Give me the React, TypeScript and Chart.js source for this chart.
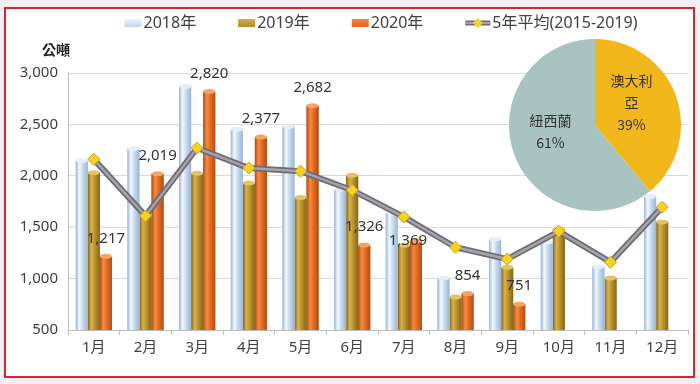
import React, { useEffect, useRef } from "react";
import { Chart, registerables } from "chart.js";

Chart.register(...registerables);

const months = ["1月", "2月", "3月", "4月", "5月", "6月", "7月", "8月", "9月", "10月", "11月", "12月"];
const s2018 = [2150, 2265, 2870, 2450, 2480, 1870, 1645, 1005, 1385, 1355, 1115, 1800];
const s2019 = [2030, 1620, 2025, 1930, 1790, 2005, 1325, 820, 1110, 1480, 1005, 1550];
const s2020: (number | null)[] = [1217, 2019, 2820, 2377, 2682, 1326, 1369, 854, 751, null, null, null];
const avg5 = [2160, 1610, 2270, 2075, 2045, 1860, 1600, 1305, 1190, 1460, 1160, 1695];
const seriesNames = ["2018年", "2019年", "2020年", "5年平均(2015-2019)"];
const yMin = 500;
const yMax = 3000;
const yStep = 500;
const unitLabel = "公噸";

const pieNames = ["澳大利亞", "紐西蘭"];
const pieLabelLines = [["澳大利", "亞"], ["紐西蘭"]];
const pieValues = [39, 61];

const FONT = '"Noto Sans", "Noto Sans CJK TC", sans-serif';
const CJK = '"Noto Sans CJK TC", "Noto Sans", sans-serif';
const TEXT = "#404040";

const SHADES = [
  { edge: "#9AB6D6", light: "#F4F8FC", mid: "#C4D9EE", cap: "#E6EFF8" },
  { edge: "#86661A", light: "#D9B34C", mid: "#B8912C", cap: "#E4C462" },
  { edge: "#B04E18", light: "#F68C42", mid: "#E36A20", cap: "#F8A468" },
];
const LINE_COLOR = "#A6A3AA";
const LINE_EDGE = "#6F6B74";
const DIAMOND_FILL = "#F5D320";
const DIAMOND_EDGE = "#C9A214";
const PIE_COLORS = ["#F2B71B", "#A9C3C0"];

const cylinderPlugin = {
  id: "cylinder",
  beforeDatasetDraw(chart: any, args: any) {
    const meta = args.meta;
    if (meta.type !== "line") return;
    const ctx = chart.ctx;
    ctx.save();
    ctx.strokeStyle = LINE_EDGE;
    ctx.lineWidth = 6;
    ctx.lineJoin = "round";
    ctx.beginPath();
    meta.data.forEach((pt: any, i: number) => {
      if (i === 0) ctx.moveTo(pt.x, pt.y);
      else ctx.lineTo(pt.x, pt.y);
    });
    ctx.stroke();
    ctx.restore();
  },
  afterDatasetDraw(chart: any, args: any) {
    const meta = args.meta;
    if (meta.type !== "bar") return;
    const shade = SHADES[args.index];
    if (!shade) return;
    const values = chart.data.datasets[args.index].data;
    const ctx = chart.ctx;
    const area = chart.chartArea;
    ctx.save();
    ctx.beginPath();
    ctx.rect(area.left, area.top - 10, area.right - area.left, area.bottom - area.top + 10);
    ctx.clip();
    meta.data.forEach((el: any, i: number) => {
      if (values[i] == null) return;
      const { x, y, base, width } = el.getProps(["x", "y", "base", "width"], true);
      if (!Number.isFinite(y)) return;
      const left = x - width / 2;
      const bottom = Math.min(base, area.bottom);
      const g = ctx.createLinearGradient(left, 0, left + width, 0);
      g.addColorStop(0, shade.edge);
      g.addColorStop(0.3, shade.light);
      g.addColorStop(0.6, shade.mid);
      g.addColorStop(1, shade.edge);
      ctx.fillStyle = g;
      ctx.fillRect(left, y, width, bottom - y);
      ctx.beginPath();
      ctx.ellipse(x, y, width / 2, 2.5, 0, 0, Math.PI * 2);
      ctx.fillStyle = shade.cap;
      ctx.fill();
    });
    ctx.restore();
  },
};

const labelNudge: Record<number, [number, number]> = { 6: [-8, 0] };

const extrasPlugin = {
  id: "extras",
  afterDatasetsDraw(chart: any) {
    const ctx = chart.ctx;
    ctx.save();
    const meta = chart.getDatasetMeta(2);
    ctx.font = `15px ${FONT}`;
    ctx.fillStyle = "#333333";
    ctx.textAlign = "center";
    ctx.textBaseline = "middle";
    meta.data.forEach((el: any, i: number) => {
      const v = s2020[i];
      if (v == null) return;
      const nudge = labelNudge[i];
      const dx = nudge ? nudge[0] : 0;
      const dy = nudge ? nudge[1] : -18;
      ctx.fillText(v.toLocaleString("en-US"), el.x + dx, el.y + dy);
    });
    ctx.restore();
  },
  afterDraw(chart: any) {
    const ctx = chart.ctx;
    ctx.save();
    ctx.font = `bold 14px ${CJK}`;
    ctx.fillStyle = "#222222";
    ctx.textAlign = "center";
    ctx.textBaseline = "middle";
    ctx.fillText(unitLabel, 56, 50);

    ctx.font = `16px ${FONT}`;
    ctx.textAlign = "left";
    const gap = 42;
    const items = seriesNames.map((name, i) => {
      const icon = i < 3 ? 17 : 25;
      const tw = ctx.measureText(name).width;
      return { name, icon, tw, w: icon + 2 + tw, i };
    });
    const total = items.reduce((a, b) => a + b.w, 0) + gap * (items.length - 1);
    let x = 381 - total / 2;
    const cy = 22;
    items.forEach((it) => {
      if (it.i < 3) {
        const s = SHADES[it.i];
        const g = ctx.createLinearGradient(0, cy - 4, 0, cy + 4);
        g.addColorStop(0, s.light);
        g.addColorStop(1, s.mid);
        ctx.fillStyle = g;
        ctx.fillRect(x, cy - 3, 17, 8);
      } else {
        ctx.strokeStyle = LINE_EDGE;
        ctx.lineWidth = 5;
        ctx.beginPath();
        ctx.moveTo(x, cy + 1);
        ctx.lineTo(x + 25, cy + 1);
        ctx.stroke();
        ctx.strokeStyle = LINE_COLOR;
        ctx.lineWidth = 2;
        ctx.beginPath();
        ctx.moveTo(x, cy + 1);
        ctx.lineTo(x + 25, cy + 1);
        ctx.stroke();
        ctx.beginPath();
        ctx.moveTo(x + 12.5, cy - 4);
        ctx.lineTo(x + 17.5, cy + 1);
        ctx.lineTo(x + 12.5, cy + 6);
        ctx.lineTo(x + 7.5, cy + 1);
        ctx.closePath();
        ctx.fillStyle = DIAMOND_FILL;
        ctx.fill();
      }
      ctx.fillStyle = TEXT;
      ctx.fillText(it.name, x + it.icon + 2, cy + 1);
      x += it.w + gap;
    });
    ctx.restore();
  },
};

const pieLabelPlugin = {
  id: "pieLabels",
  afterDatasetsDraw(chart: any) {
    const ctx = chart.ctx;
    const meta = chart.getDatasetMeta(0);
    ctx.save();
    ctx.font = `14px ${CJK}`;
    ctx.fillStyle = "#333333";
    ctx.textAlign = "center";
    ctx.textBaseline = "middle";
    meta.data.forEach((arc: any, i: number) => {
      const p = arc.tooltipPosition();
      const lines = [...pieLabelLines[i], `${pieValues[i]}%`];
      const lh = 22;
      const startY = p.y - 8 - ((lines.length - 1) * lh) / 2;
      lines.forEach((t, k) => ctx.fillText(t, p.x - 4, startY + k * lh));
    });
    ctx.restore();
  },
};

export default function App() {
  const barRef = useRef<HTMLCanvasElement | null>(null);
  const pieRef = useRef<HTMLCanvasElement | null>(null);

  useEffect(() => {
    document.body.style.margin = "0";
    const bar = new Chart(barRef.current!, {
      type: "bar",
      data: {
        labels: months,
        datasets: [
          { type: "bar", label: seriesNames[0], data: s2018, backgroundColor: SHADES[0].mid, order: 1 },
          { type: "bar", label: seriesNames[1], data: s2019, backgroundColor: SHADES[1].mid, order: 1 },
          { type: "bar", label: seriesNames[2], data: s2020, backgroundColor: SHADES[2].mid, order: 1 },
          {
            type: "line",
            label: seriesNames[3],
            data: avg5,
            borderColor: LINE_COLOR,
            borderWidth: 2.5,
            tension: 0,
            pointStyle: "rectRot",
            pointRadius: 6,
            pointBackgroundColor: DIAMOND_FILL,
            pointBorderColor: DIAMOND_EDGE,
            pointBorderWidth: 1,
            order: 0,
          } as any,
        ],
      },
      options: {
        animation: false,
        responsive: false,
        maintainAspectRatio: false,
        datasets: { bar: { categoryPercentage: 0.7, barPercentage: 1.0 } },
        layout: { padding: { top: 73, right: 12, left: 0, bottom: 0 } },
        plugins: { legend: { display: false }, tooltip: { enabled: false } },
        scales: {
          x: {
            offset: true,
            grid: { display: true, drawOnChartArea: false, drawTicks: true, tickLength: 5, color: "#BFBFBF", offset: true },
            border: { color: "#BFBFBF" },
            ticks: { color: TEXT, font: { size: 15, family: FONT }, padding: 4, maxRotation: 0 },
            afterFit: (s: any) => {
              s.height = 54;
            },
          },
          y: {
            min: yMin,
            max: yMax,
            ticks: {
              stepSize: yStep,
              color: TEXT,
              font: { size: 15, family: FONT },
              padding: 10,
              callback: (v: any) => Number(v).toLocaleString("en-US"),
            },
            grid: { color: "#D9D9D9", drawTicks: false },
            border: { color: "#BFBFBF" },
            afterFit: (s: any) => {
              s.width = 68;
            },
          },
        },
      },
      plugins: [cylinderPlugin, extrasPlugin],
    } as any);

    const pie = new Chart(pieRef.current!, {
      type: "pie",
      data: {
        labels: pieNames,
        datasets: [{ data: pieValues, backgroundColor: PIE_COLORS, borderWidth: 0 }],
      },
      options: {
        animation: false,
        responsive: false,
        maintainAspectRatio: false,
        layout: { padding: 0 },
        plugins: { legend: { display: false }, tooltip: { enabled: false } },
      },
      plugins: [pieLabelPlugin],
    } as any);

    return () => {
      bar.destroy();
      pie.destroy();
    };
  }, []);

  return (
    <div style={{ position: "fixed", left: 0, top: 0, width: 700, height: 384, background: "#F2F0F2", overflow: "hidden" }}>
      <div
        style={{
          position: "absolute",
          left: 4,
          top: 7,
          width: 691,
          height: 371,
          boxSizing: "border-box",
          border: "2px solid #D9232E",
          background: "#FFFFFF",
        }}
      />
      <canvas ref={barRef} width={700} height={384} style={{ position: "absolute", left: 0, top: 0, width: 700, height: 384 }} />
      <canvas ref={pieRef} width={172} height={172} style={{ position: "absolute", left: 509, top: 39, width: 172, height: 172 }} />
    </div>
  );
}
